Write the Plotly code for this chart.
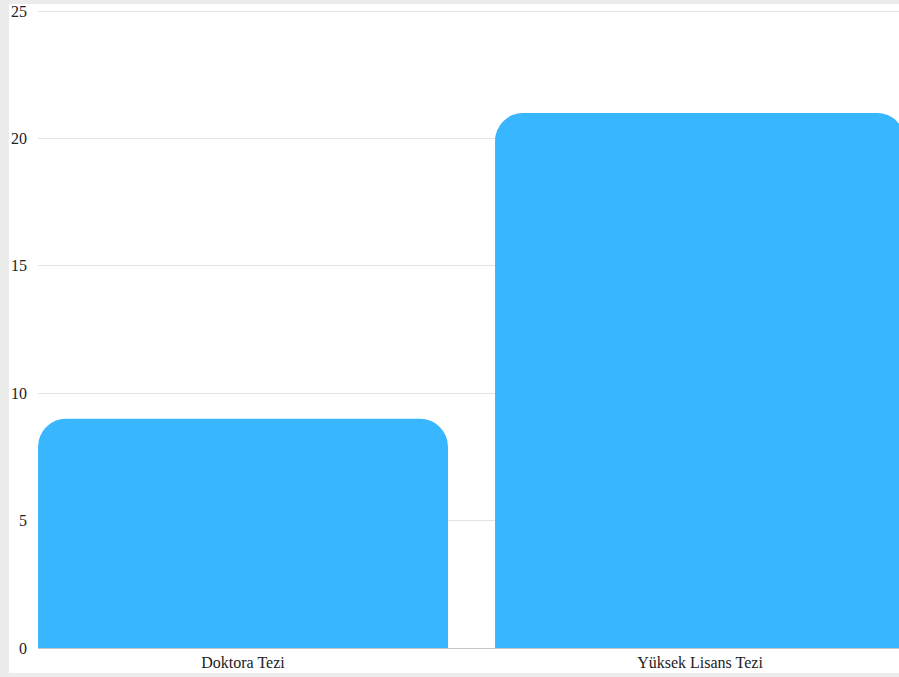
import plotly.graph_objects as go

categories = ["Doktora Tezi", "Yüksek Lisans Tezi"]
values = [9, 21]
y_ticks = [0, 5, 10, 15, 20, 25]

W, H = 899, 677
fig = go.Figure(go.Bar(
    x=categories, y=values,
    marker=dict(color="#38b6ff", cornerradius=28, line=dict(width=0)),
    hoverinfo="skip",
))

fig.update_layout(
    width=W, height=H,
    margin=dict(l=38, r=0, t=10, b=29, pad=0),
    paper_bgcolor="white", plot_bgcolor="white",
    bargap=0.103,
    showlegend=False,
    font=dict(family="Liberation Serif", size=16, color="#333"),
    xaxis=dict(range=[-0.4486, 1.4354], showgrid=False, showline=True,
               linecolor="#c8c8c8", linewidth=1, ticks="", tickfont=dict(size=16, color="#222"),
               fixedrange=True),
    yaxis=dict(range=[0, 25.04], tickvals=y_ticks, showgrid=True, gridcolor="#e2e2e2",
               gridwidth=1, zeroline=False, showline=False, ticks="",
               ticklabelstandoff=10, tickfont=dict(size=16, color="#222"),
               fixedrange=True),
    shapes=[
        dict(type="rect", xref="paper", yref="paper", x0=-38/861, x1=-29/861,
             y0=-29/638, y1=(638+10)/638, fillcolor="#ececec", line=dict(width=0), layer="above"),
        dict(type="rect", xref="paper", yref="paper", x0=-38/861, x1=1.0,
             y0=(638+6)/638, y1=(638+10)/638, fillcolor="#ececec", line=dict(width=0), layer="above"),
        dict(type="rect", xref="paper", yref="paper", x0=-38/861, x1=1.0,
             y0=-29/638, y1=-25/638, fillcolor="#ececec", line=dict(width=0), layer="above"),
    ],
)

fig.write_html("out.html", config={"displayModeBar": False})
